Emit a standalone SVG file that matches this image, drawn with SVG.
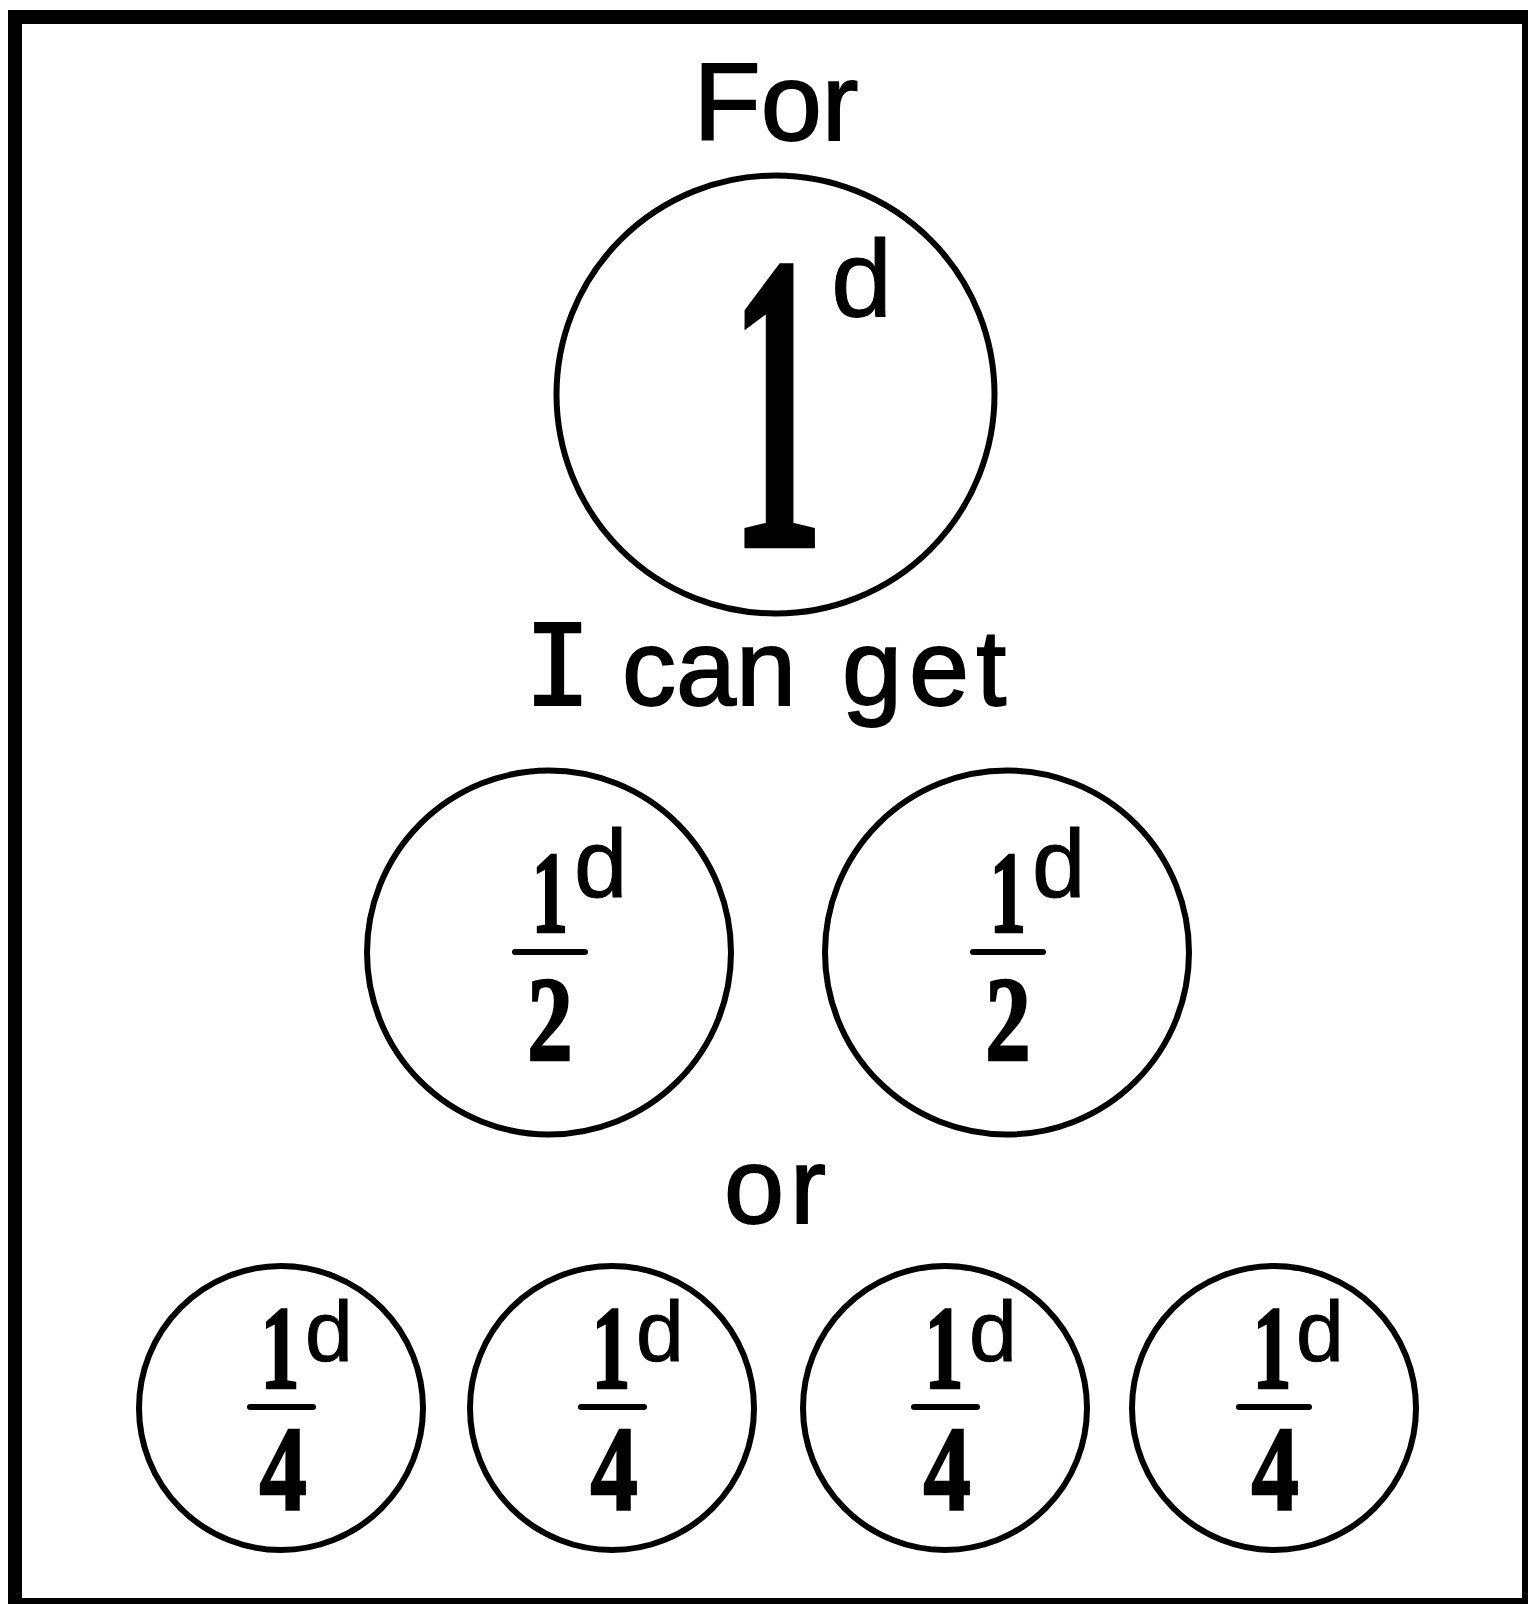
<svg xmlns="http://www.w3.org/2000/svg" width="1529" height="1604" viewBox="0 0 1529 1604">
<style>
.coin{fill:none;stroke:#000;stroke-width:6}
.num{font-family:"Liberation Serif","Times New Roman",serif;font-weight:bold;text-anchor:middle;fill:#000;stroke:#000;stroke-width:2.5}
.d{font-family:"Liberation Sans",Arial,sans-serif;fill:#000;stroke:#000;stroke-width:1}
.lbl{font-family:"Liberation Sans",Arial,sans-serif;fill:#000;stroke:#000;stroke-width:1.8}
.bar{stroke:#000;stroke-width:6;stroke-linecap:round}
</style>
<rect width="1529" height="1604" fill="#fff"/>
<g id="frame" fill="#000">
<rect x="8" y="10" width="1520" height="14"/>
<rect x="8" y="10" width="14" height="1594"/>
<rect x="1522" y="10" width="6" height="1594"/>
<rect x="8" y="1598" width="1520" height="6"/>
</g>
<g id="connectors"/>
<g id="title-for">
<text class="lbl" x="776" y="140" font-size="110" text-anchor="middle">For</text>
</g>
<g id="penny">
<circle class="coin" cx="775.5" cy="394.5" r="219"/>
<text class="num" transform="translate(777,547) scale(0.44,1)" font-size="428" stroke-width="3">1</text>
<text class="d" x="831" y="316" font-size="110">d</text>
</g>
<g id="label-i-can-get">
<text class="lbl" y="705" font-size="108"><tspan x="524" font-family="'DejaVu Sans Mono',monospace" font-size="112">I</tspan><tspan x="622">can</tspan><tspan x="842" letter-spacing="7">get</tspan></text>
</g>
<g id="half-1">
<circle class="coin" cx="549" cy="952.5" r="182"/>
<text class="num" transform="translate(550,932) scale(0.62,1)" font-size="117">1</text>
<text class="d" x="574" y="897" font-size="96">d</text>
<line class="bar" x1="515" y1="952" x2="585" y2="952"/>
<text class="num" transform="translate(550,1060) scale(0.75,1)" font-size="121">2</text>
</g>
<g id="half-2">
<circle class="coin" cx="1007" cy="952.5" r="182"/>
<text class="num" transform="translate(1008,932) scale(0.62,1)" font-size="117">1</text>
<text class="d" x="1032" y="897" font-size="96">d</text>
<line class="bar" x1="973" y1="952" x2="1043" y2="952"/>
<text class="num" transform="translate(1008,1060) scale(0.75,1)" font-size="121">2</text>
</g>
<g id="label-or">
<text class="lbl" x="775" y="1223" font-size="108" text-anchor="middle" textLength="102" lengthAdjust="spacing">or</text>
</g>
<g id="quarter-1">
<circle class="coin" cx="281" cy="1408" r="142"/>
<text class="num" transform="translate(280,1388) scale(0.66,1)" font-size="118">1</text>
<text class="d" x="305" y="1361" font-size="86">d</text>
<line class="bar" x1="250" y1="1407" x2="313" y2="1407"/>
<text class="num" transform="translate(283,1510) scale(0.78,1)" font-size="121">4</text>
</g>
<g id="quarter-2">
<circle class="coin" cx="612" cy="1408" r="142"/>
<text class="num" transform="translate(611,1388) scale(0.66,1)" font-size="118">1</text>
<text class="d" x="636" y="1361" font-size="86">d</text>
<line class="bar" x1="581" y1="1407" x2="644" y2="1407"/>
<text class="num" transform="translate(614,1510) scale(0.78,1)" font-size="121">4</text>
</g>
<g id="quarter-3">
<circle class="coin" cx="945" cy="1408" r="142"/>
<text class="num" transform="translate(944,1388) scale(0.66,1)" font-size="118">1</text>
<text class="d" x="969" y="1361" font-size="86">d</text>
<line class="bar" x1="914" y1="1407" x2="977" y2="1407"/>
<text class="num" transform="translate(947,1510) scale(0.78,1)" font-size="121">4</text>
</g>
<g id="quarter-4">
<circle class="coin" cx="1274" cy="1408" r="142"/>
<text class="num" transform="translate(1272,1388) scale(0.66,1)" font-size="118">1</text>
<text class="d" x="1296" y="1361" font-size="86">d</text>
<line class="bar" x1="1239" y1="1407" x2="1309" y2="1407"/>
<text class="num" transform="translate(1275,1510) scale(0.78,1)" font-size="121">4</text>
</g>
</svg>
